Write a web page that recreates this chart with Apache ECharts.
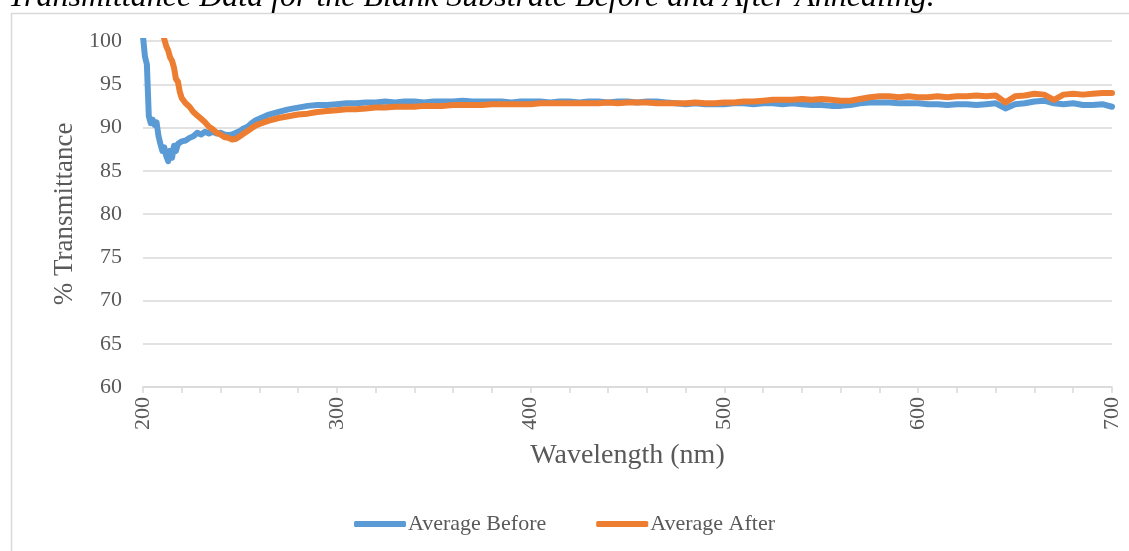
<!DOCTYPE html>
<html>
<head>
<meta charset="utf-8">
<script src="https://cdn.jsdelivr.net/npm/echarts@6/dist/echarts.min.js"></script>
<style>
html,body{margin:0;padding:0;background:#fff;}
#c{width:1129px;height:551px;}
</style>
</head>
<body>
<div id="c"></div>
<script>
var titleText = 'Transmittance Data for the Blank Substrate Before and After Annealing.';
var seriesNames = ['Average Before', 'Average After'];
var xTitle = 'Wavelength (nm)';
var yTitle = '% Transmittance';

var wavelengths = [
  200,201,202,203,204,205,206,207,208,209,210,211,212,213,214,215,216,217,218,219,220,
  222,224,226,228,230,232,234,236,238,240,242,244,246,248,250,252,254,256,258,260,
  265,270,275,280,285,290,295,300,305,310,315,320,325,330,335,340,345,350,355,360,
  365,370,375,380,385,390,395,400,405,410,415,420,425,430,435,440,445,450,455,460,
  465,470,475,480,485,490,495,500,505,510,515,520,525,530,535,540,545,550,555,560,
  565,570,575,580,585,590,595,600,605,610,615,620,625,630,635,640,645,650,655,660,
  665,670,675,680,685,690,695,700
];

var averageBefore = [
  100.5,98.2,97.3,91.3,90.5,90.9,90.3,90.6,89.0,88.1,87.3,87.7,86.7,86.1,87.3,86.5,87.9,87.3,88.1,87.9,88.4,
  88.5,88.8,89.0,89.4,89.2,89.5,89.3,89.5,89.3,89.4,89.2,89.1,89.2,89.4,89.6,89.9,90.1,90.5,90.8,91.0,
  91.5,91.8,92.1,92.3,92.5,92.6,92.6,92.7,92.8,92.8,92.9,92.9,93.0,92.9,93.0,93.0,92.9,93.0,93.0,93.0,
  93.1,93.0,93.0,93.0,93.0,92.9,93.0,93.0,93.0,92.9,93.0,93.0,92.9,93.0,93.0,92.9,93.0,93.0,92.9,93.0,
  93.0,92.9,92.8,92.7,92.8,92.7,92.7,92.7,92.8,92.8,92.7,92.8,92.8,92.7,92.8,92.7,92.6,92.6,92.5,92.5,
  92.6,92.8,92.9,92.9,92.9,92.8,92.8,92.8,92.7,92.7,92.6,92.7,92.7,92.6,92.7,92.8,92.2,92.7,92.8,93.0,
  93.1,92.8,92.7,92.8,92.6,92.6,92.7,92.4
];

var averageAfter = [
  130,127,124,121,118,115,112,109,106,103.5,101.5,100.2,99.4,98.9,98.1,97.7,96.9,95.6,95.3,94.1,93.4,
  92.8,92.4,91.8,91.4,91.0,90.6,90.1,89.8,89.4,89.2,88.9,88.8,88.6,88.7,89.0,89.3,89.6,89.9,90.2,90.4,
  90.8,91.1,91.3,91.5,91.6,91.8,91.9,92.0,92.1,92.1,92.2,92.3,92.3,92.4,92.4,92.4,92.5,92.5,92.5,92.6,
  92.6,92.6,92.6,92.7,92.7,92.7,92.7,92.7,92.8,92.8,92.8,92.8,92.8,92.8,92.8,92.9,92.8,92.9,92.9,92.9,
  92.8,92.8,92.8,92.8,92.9,92.8,92.8,92.9,92.9,93.0,93.0,93.1,93.2,93.2,93.2,93.3,93.2,93.3,93.2,93.1,
  93.1,93.3,93.5,93.6,93.6,93.5,93.6,93.5,93.5,93.6,93.5,93.6,93.6,93.7,93.6,93.7,92.9,93.6,93.7,93.9,
  93.8,93.2,93.8,93.9,93.8,93.9,94.0,94.0
];

function pairs(xs, ys){ return xs.map(function(x,i){ return [x, ys[i]]; }); }

var FONT = '"Liberation Serif", "Times New Roman", serif';
var TXT = '#595959';
var GRID = '#d9d9d9';

var chart = echarts.init(document.getElementById('c'), null, {renderer:'canvas'});
chart.setOption({
  animation: false,
  backgroundColor: '#fff',
  graphic: [
    { type:'rect', left: 9, top: 11, silent:true,
      shape:{ width: 1200, height: 600 },
      style:{ fill:'none', stroke: GRID, lineWidth: 1.5 } },
    { type:'text', left: 8, top: -18, silent:true,
      style:{ text: titleText, fill:'#000', font: 'italic 32px ' + FONT } }
  ],
  grid: { left: 143, right: 17, top: 41, bottom: 164 },
  legend: {
    bottom: 11, left: 'center',
    itemWidth: 52, itemHeight: 6, itemGap: 50,
    icon: 'roundRect',
    textStyle: { fontFamily: FONT, fontSize: 22, color: TXT, padding:[0,0,0,-3] },
    data: seriesNames
  },
  xAxis: {
    type: 'value', min: 200, max: 700, interval: 100,
    name: xTitle, nameLocation: 'middle', nameGap: 55,
    nameTextStyle: { fontFamily: FONT, fontSize: 28, color: TXT },
    axisLine: { show: true, lineStyle: { color: GRID, width: 1.5 } },
    axisTick: { show: true, length: 6, lineStyle: { color: GRID, width: 1.5 } },
    minorTick: { show: true, splitNumber: 5, length: 6, lineStyle: { color: GRID, width: 1.5 } },
    splitLine: { show: false },
    axisLabel: { rotate: 90, margin: 10, fontFamily: FONT, fontSize: 22, color: TXT }
  },
  yAxis: {
    type: 'value', min: 60, max: 100, interval: 5,
    name: yTitle, nameLocation: 'middle', nameGap: 64,
    nameTextStyle: { fontFamily: FONT, fontSize: 27, color: TXT },
    axisLine: { show: false }, axisTick: { show: false },
    splitLine: { show: true, lineStyle: { color: GRID, width: 1.5 } },
    axisLabel: { margin: 21, fontFamily: FONT, fontSize: 22, color: TXT }
  },
  series: [
    { name: seriesNames[0], type: 'line', data: pairs(wavelengths, averageBefore),
      showSymbol: false, symbol: 'none', clip: true,
      itemStyle: { color: '#5B9BD5' },
      lineStyle: { color: '#5B9BD5', width: 6, cap: 'round', join: 'round' } },
    { name: seriesNames[1], type: 'line', data: pairs(wavelengths, averageAfter),
      showSymbol: false, symbol: 'none', clip: true,
      itemStyle: { color: '#ED7D31' },
      lineStyle: { color: '#ED7D31', width: 6, cap: 'round', join: 'round' } }
  ]
});
</script>
</body>
</html>
